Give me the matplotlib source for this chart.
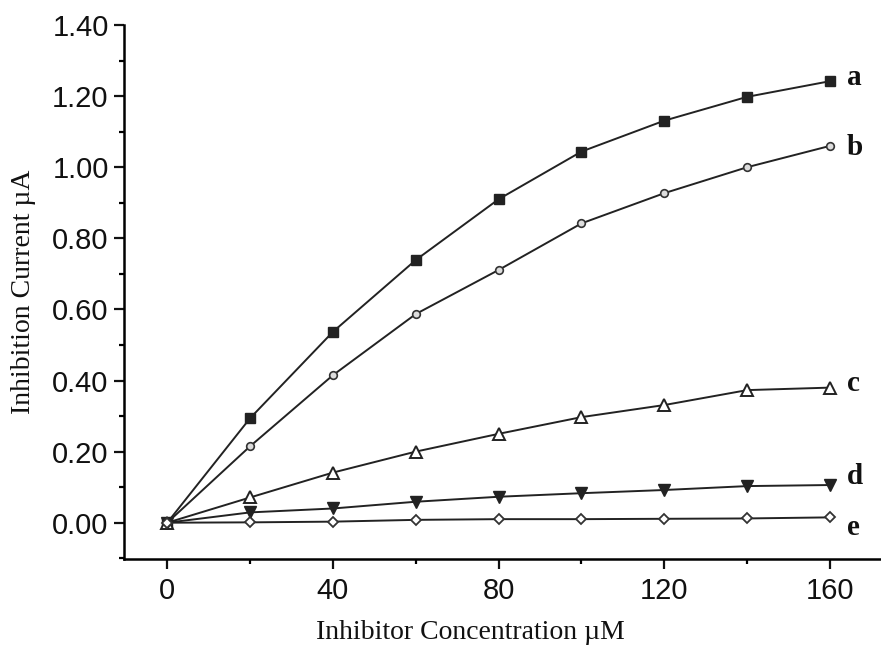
import matplotlib
matplotlib.use("Agg")
import matplotlib.pyplot as plt
from matplotlib.ticker import MultipleLocator, FormatStrFormatter

conc = [0, 20, 40, 60, 80, 100, 120, 140, 160]
curve_a = [0.0, 0.294, 0.537, 0.739, 0.910, 1.044, 1.131, 1.198, 1.242]
curve_b = [0.0, 0.215, 0.415, 0.587, 0.711, 0.842, 0.927, 1.000, 1.060]
curve_c = [0.0, 0.071, 0.141, 0.200, 0.250, 0.297, 0.331, 0.373, 0.380]
curve_d = [0.0, 0.029, 0.040, 0.059, 0.073, 0.083, 0.092, 0.103, 0.106]
curve_e = [0.0, 0.001, 0.003, 0.008, 0.010, 0.010, 0.011, 0.012, 0.015]
series_labels = ["a", "b", "c", "d", "e"]

fig = plt.figure(figsize=(8.81, 6.53), dpi=100)
ax = fig.add_axes([0.1407, 0.1440, 0.8593, 0.8177])

styles = [
    dict(marker="s", mfc="#222222", mec="#222222", ms=6.5),
    dict(marker="o", mfc="#dddddd", mec="#333333", ms=5.5, mew=1.2),
    dict(marker="^", mfc="white", mec="#222222", ms=9, mew=1.4),
    dict(marker="v", mfc="#222222", mec="#222222", ms=8.5),
    dict(marker="D", mfc="white", mec="#333333", ms=5.5, mew=1.3),
]
series = [curve_a, curve_b, curve_c, curve_d, curve_e]
label_dy = [3, -1, 3, 6, -7]
for ys, st, lab, dy in zip(series, styles, series_labels, label_dy):
    ax.plot(conc, ys, color="#222222", lw=1.4, **st)
    ax.annotate(lab, xy=(conc[-1], ys[-1]), xytext=(12, dy), textcoords="offset points",
                ha="left", va="center", fontsize=21, fontweight="bold",
                family="Liberation Serif", color="#111111")

ax.set_xlim(-10.45, 172.3)
ax.set_ylim(-0.102, 1.40)
ax.spines["top"].set_visible(False)
ax.spines["right"].set_visible(False)
ax.spines["left"].set_linewidth(1.8)
ax.spines["bottom"].set_linewidth(1.8)

ax.xaxis.set_major_locator(MultipleLocator(40))
ax.xaxis.set_minor_locator(MultipleLocator(20))
ax.yaxis.set_major_locator(MultipleLocator(0.2))
ax.yaxis.set_minor_locator(MultipleLocator(0.1))
ax.yaxis.set_major_formatter(FormatStrFormatter("%.2f"))
ax.tick_params(axis="both", which="major", direction="out", length=7, width=1.6,
               labelsize=21, colors="#111111")
ax.tick_params(axis="both", which="minor", direction="out", length=3.5, width=1.6)
for t in ax.get_xticklabels() + ax.get_yticklabels():
    t.set_family("Liberation Sans")
ax.tick_params(axis="x", which="major", pad=6)
ax.tick_params(axis="y", which="major", pad=4)

ax.set_xlabel("Inhibitor Concentration \u00b5M", fontsize=20, family="Liberation Serif",
              color="#111111")
ax.set_ylabel("Inhibition Current \u00b5A", fontsize=20, family="Liberation Serif",
              color="#111111")
ax.xaxis.set_label_coords(0.457, -0.115, transform=ax.transAxes)
ax.yaxis.set_label_coords(-0.116, 0.5, transform=ax.transAxes)

fig.savefig("out.png", dpi=100, facecolor="white")
